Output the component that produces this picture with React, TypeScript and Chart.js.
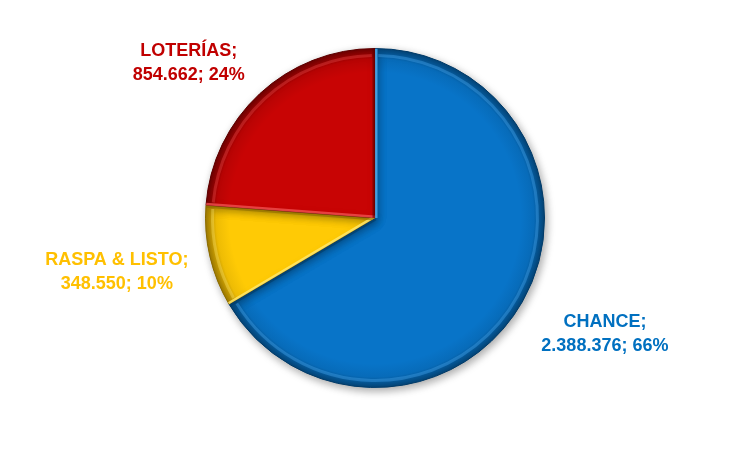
import React, { useEffect, useRef } from "react";
import { Chart, registerables } from "chart.js";

Chart.register(...registerables);

const categories = ["CHANCE", "RASPA & LISTO", "LOTERÍAS"];
const values = [2388376, 348550, 854662];
const valueLabels = ["2.388.376", "348.550", "854.662"];
const percentLabels = ["66%", "10%", "24%"];
const sliceColors = ["#0874C8", "#FFCA05", "#C80404"];
const darkColors = ["#023a66", "#8a6a00", "#5a0000"];
const lightColors = ["#4fb0f5", "#ffe870", "#f05050"];
const textColors = ["#0070C0", "#FFC000", "#C00000"];

function hexToRgba(hex: string, a: number) {
  const n = parseInt(hex.slice(1), 16);
  return `rgba(${(n >> 16) & 255},${(n >> 8) & 255},${n & 255},${a})`;
}

const shadowPlugin = {
  id: "pieShadow",
  beforeDatasetsDraw(chart: any) {
    const ctx = chart.ctx;
    ctx.save();
    ctx.shadowColor = "rgba(0,0,0,0.35)";
    ctx.shadowBlur = 8;
    ctx.shadowOffsetX = 2;
    ctx.shadowOffsetY = 3;
  },
  afterDatasetsDraw(chart: any) {
    chart.ctx.restore();
  },
};

const bevelPlugin = {
  id: "bevel",
  afterDatasetsDraw(chart: any) {
    const ctx = chart.ctx;
    const meta = chart.getDatasetMeta(0);
    meta.data.forEach((arc: any, i: number) => {
      const { x, y, startAngle, endAngle, outerRadius } = arc.getProps(
        ["x", "y", "startAngle", "endAngle", "outerRadius"],
        true
      );
      ctx.save();
      ctx.beginPath();
      ctx.moveTo(x, y);
      ctx.arc(x, y, outerRadius, startAngle, endAngle);
      ctx.closePath();
      ctx.clip();
      const g = ctx.createRadialGradient(x, y, outerRadius * 0.86, x, y, outerRadius);
      g.addColorStop(0, hexToRgba(darkColors[i], 0));
      g.addColorStop(0.55, hexToRgba(darkColors[i], 0.15));
      g.addColorStop(1, hexToRgba(darkColors[i], 0.85));
      ctx.fillStyle = g;
      ctx.fillRect(x - outerRadius, y - outerRadius, outerRadius * 2, outerRadius * 2);
      ctx.beginPath();
      ctx.arc(x, y, outerRadius - 7, startAngle + 0.02, endAngle - 0.02);
      ctx.strokeStyle = hexToRgba(lightColors[i], 0.35);
      ctx.lineWidth = 3;
      ctx.stroke();
      ctx.beginPath();
      ctx.moveTo(x, y);
      ctx.lineTo(x + Math.cos(startAngle) * outerRadius, y + Math.sin(startAngle) * outerRadius);
      ctx.strokeStyle = hexToRgba(lightColors[i], 0.8);
      ctx.lineWidth = 5;
      ctx.stroke();
      ctx.beginPath();
      ctx.moveTo(x, y);
      ctx.lineTo(x + Math.cos(endAngle) * outerRadius, y + Math.sin(endAngle) * outerRadius);
      ctx.strokeStyle = hexToRgba(darkColors[i], 0.6);
      ctx.lineWidth = 5;
      ctx.stroke();
      ctx.restore();
    });
  },
};

const labelPlugin = {
  id: "outLabels",
  afterDraw(chart: any) {
    const ctx = chart.ctx;
    const meta = chart.getDatasetMeta(0);
    const fontSize = 18;
    const lineH = 24;
    ctx.save();
    ctx.font = `bold ${fontSize}px "Liberation Sans", Arial, sans-serif`;
    ctx.textAlign = "center";
    ctx.textBaseline = "middle";
    meta.data.forEach((arc: any, i: number) => {
      const { x, y, startAngle, endAngle, outerRadius } = arc.getProps(
        ["x", "y", "startAngle", "endAngle", "outerRadius"],
        true
      );
      const mid = (startAngle + endAngle) / 2;
      const lines = [`${categories[i]};`, `${valueLabels[i]}; ${percentLabels[i]}`];
      const w = Math.max(...lines.map((l) => ctx.measureText(l).width));
      const h = lineH * lines.length;
      const c = Math.cos(mid);
      const s = Math.sin(mid);
      const px = x + c * (outerRadius + 22);
      const py = y + s * (outerRadius + 12);
      const cx = px + Math.sign(c) * (w / 2);
      const cy = py + (h / 2) * Math.max(-1, Math.min(1, s * 2)) + 2;
      ctx.fillStyle = textColors[i];
      lines.forEach((l, k) => {
        ctx.fillText(l, cx, cy - h / 2 + lineH * (k + 0.5));
      });
    });
    ctx.restore();
  },
};

export default function App() {
  const ref = useRef<HTMLCanvasElement>(null);
  useEffect(() => {
    document.body.style.margin = "0";
    const chart = new Chart(ref.current!, {
      type: "pie",
      data: {
        labels: categories,
        datasets: [
          {
            data: values,
            backgroundColor: sliceColors,
            borderColor: darkColors,
            borderWidth: 1,
          },
        ],
      },
      options: {
        animation: false,
        responsive: false,
        events: [],
        layout: { padding: { top: 48, bottom: 62, left: 0, right: 0 } },
        plugins: {
          legend: { display: false },
          tooltip: { enabled: false },
        },
      },
      plugins: [shadowPlugin, bevelPlugin, labelPlugin],
    });
    return () => chart.destroy();
  }, []);
  return (
    <div style={{ position: "fixed", left: 0, top: 0, width: 750, height: 450, background: "#fff" }}>
      <canvas ref={ref} width={750} height={450} />
    </div>
  );
}
